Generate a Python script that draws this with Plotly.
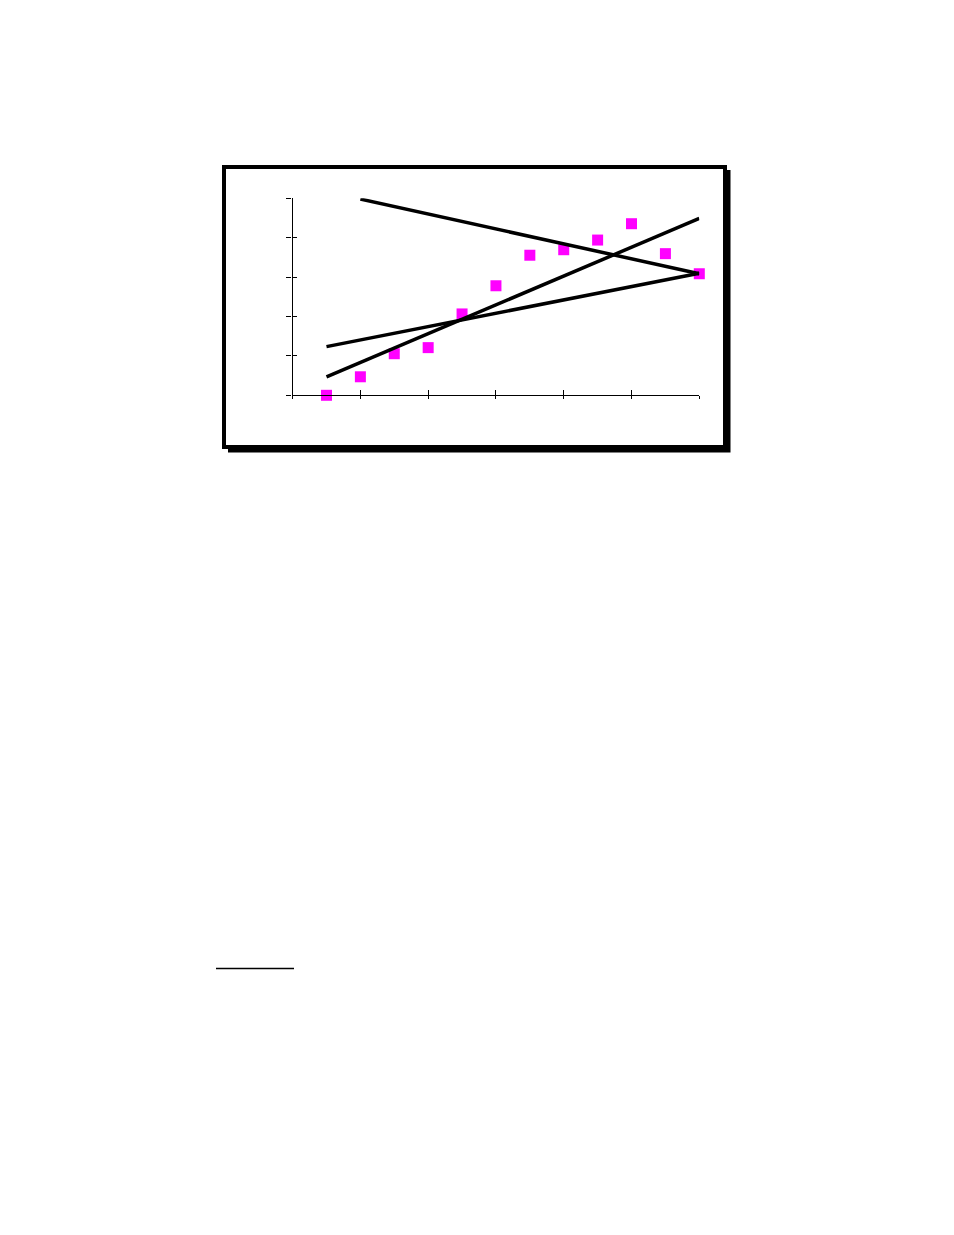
import plotly.graph_objects as go

# dados
x_pontos = [1, 2, 3, 4, 5, 6, 7, 8, 9, 10, 11, 12]
y_pontos = [0.0, 0.94, 2.11, 2.42, 4.13, 5.56, 7.11, 7.39, 7.88, 8.71, 7.19, 6.17]

# três retas (início e fim)
reta_a_x = [2, 12]
reta_a_y = [9.96, 6.17]
reta_b_x = [1, 12]
reta_b_y = [2.47, 6.2]
reta_c_x = [1, 12]
reta_c_y = [0.93, 8.98]

W, H = 954, 1235
OFF = 8  # margem do body da página


def px(x):
    return (x - OFF) / W


def py(y):
    return 1 - (y - OFF) / H


fig = go.Figure()

# pontos magenta
fig.add_trace(go.Scatter(x=x_pontos, y=y_pontos, mode='markers',
                         marker=dict(symbol='square', size=11, color='#FF00FF'),
                         cliponaxis=False, showlegend=False))

# retas pretas por cima dos pontos
for rx, ry in [(reta_a_x, reta_a_y), (reta_b_x, reta_b_y), (reta_c_x, reta_c_y)]:
    fig.add_trace(go.Scatter(x=rx, y=ry, mode='lines',
                             line=dict(color='black', width=3.5),
                             cliponaxis=False, showlegend=False))

# eixo auxiliar só para os ticks cruzados
fig.add_trace(go.Scatter(x=[0], y=[0], xaxis='x2', yaxis='y2', mode='markers',
                         marker=dict(opacity=0), showlegend=False, hoverinfo='skip'))

dom_x = [px(292.6), px(699.3)]
dom_y = [py(395.3), py(198.3)]

fig.update_layout(
    width=W, height=H,
    margin=dict(l=0, r=0, t=0, b=0),
    paper_bgcolor='white', plot_bgcolor='rgba(0,0,0,0)',
    xaxis=dict(domain=dom_x, range=[0, 12], tick0=0, dtick=2,
               showgrid=False, zeroline=False, showticklabels=False,
               showline=True, linecolor='black', linewidth=1.3,
               ticks='inside', ticklen=5, tickwidth=1.3, tickcolor='black',
               anchor='y'),
    yaxis=dict(domain=dom_y, range=[0, 10], tick0=0, dtick=2,
               showgrid=False, zeroline=False, showticklabels=False,
               showline=True, linecolor='black', linewidth=1.3,
               ticks='outside', ticklen=5, tickwidth=1.3, tickcolor='black',
               anchor='x'),
    xaxis2=dict(domain=dom_x, range=[0, 12], tick0=0, dtick=2, overlaying='x',
                showgrid=False, zeroline=False, showticklabels=False, showline=False,
                ticks='outside', ticklen=3, tickwidth=1.3, tickcolor='black',
                anchor='y2', side='bottom'),
    yaxis2=dict(domain=dom_y, range=[0, 10], tick0=0, dtick=2, overlaying='y',
                showgrid=False, zeroline=False, showticklabels=False, showline=False,
                ticks='inside', ticklen=4, tickwidth=1.3, tickcolor='black',
                anchor='x2', side='left'),
    shapes=[
        # sombra da moldura
        dict(type='rect', xref='paper', yref='paper', layer='below',
             x0=px(228), x1=px(730.5), y0=py(452.5), y1=py(170),
             fillcolor='black', line=dict(width=0)),
        # moldura
        dict(type='rect', xref='paper', yref='paper', layer='below',
             x0=px(224), x1=px(725), y0=py(447), y1=py(167),
             fillcolor='white', line=dict(color='black', width=4)),
        # traço da nota de rodapé
        dict(type='line', xref='paper', yref='paper',
             x0=px(216), x1=px(294), y0=py(968.5), y1=py(968.5),
             line=dict(color='black', width=1.5)),
    ],
)

fig.write_html("out.html")
